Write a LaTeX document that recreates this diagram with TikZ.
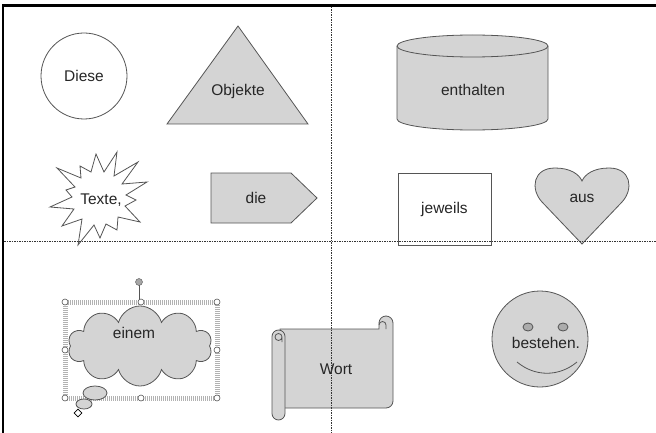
\documentclass[tikz,border=0pt]{standalone}
\usepackage{fontspec}
\setmainfont{Liberation Sans}
\usetikzlibrary{positioning}
\usetikzlibrary{shapes.geometric,shapes.symbols,calc}

\definecolor{shapegray}{RGB}{212,212,212}
\definecolor{linegray}{RGB}{85,85,85}

\tikzset{
    form/.style={draw=linegray, fill=shapegray, line width=0.8pt},
    plain/.style={draw=linegray, fill=white, line width=0.8pt},
    word/.style={text=black!85, font=\fontsize{15.5}{18}\selectfont},
    guide/.style={black!80, line width=0.6pt, dash pattern=on 1.5pt off 1pt},
    handle/.style={circle, draw=linegray, fill=white, inner sep=0pt,
        minimum size=6pt, line width=0.6pt}
}

\begin{document}
\begin{tikzpicture}[x=1pt, y=-1pt]
\useasboundingbox (0,0) rectangle (656,433);

% Frame
\draw[line width=2.4pt] (2,5.5) -- (656,5.5);
\draw[line width=2.4pt] (3,5.5) -- (3,433);

% Circle
\node[plain, circle,
    minimum size=86pt,
    word
    ] (diese) at (84,76) {Diese};

% Triangle
\draw[form] (238,26) -- (308,124) -- (167,124) -- cycle;
\node[word] (objekte) at (238,91) {Objekte};

% Cylinder
\draw[form] (397,46) -- (397,119) arc (180:360:75.5pt and 11pt)
    -- (548,46) arc (0:180:75.5pt and 11pt) -- cycle;
\draw[linegray, line width=0.8pt] (397,46) arc (180:360:75.5pt and 11pt);
\node[word] (enthalten) at (473,90) {enthalten};

% Starburst
\draw[plain, line join=miter] (117,152) -- (114,176) -- (138,162) -- (122,184)
    -- (147,182) -- (126,195) -- (136,200) -- (125,206) -- (140,222)
    -- (118,217) -- (117,230) -- (106,224) -- (100,238) -- (94,225)
    -- (78,245) -- (82,219) -- (62,226) -- (74,209) -- (50,207)
    -- (72,197) -- (66,190) -- (75,187) -- (57,168) -- (81,178)
    -- (80,166) -- (91,172) -- (96,154) -- (104,172) -- cycle;
\node[word] (texte) at (101,200) {Texte,};

% Pentagon arrow
\draw[form] (211,173) -- (291,173) -- (317,198) -- (291,223) -- (211,223) -- cycle;
\node[word] (die) at (256,198) {die};

% Rectangle
\node[plain, rectangle,
    minimum width=93pt,
    minimum height=72pt,
    word
    ] (jeweils) at (444.5,209) {jeweils};

% Heart
\draw[form] (582,244) -- (542,202)
    .. controls (530,189) and (533,168) .. (555,168)
    .. controls (570,168) and (579,174) .. (582,181)
    .. controls (585,174) and (594,168) .. (609,168)
    .. controls (631,168) and (634,189) .. (622,202) -- cycle;
\node[word] (aus) at (582,198) {aus};

% Selected cloud
\draw[gray!60, line width=5pt, dash pattern=on 1pt off 1pt] (65,302) rectangle (217,398);
\node[form, cloud,
    cloud puffs=10,
    aspect=1.8,
    minimum width=144pt,
    minimum height=80pt
    ] (cloud) at (140,346) {};
\node[word] (einem) at (134,333) {einem};
\draw[form] (95,393) ellipse (12pt and 7pt);
\draw[form] (84,404) ellipse (8pt and 5pt);
\draw[linegray, line width=0.8pt] (139,282) -- (139,302);
\node[circle, draw=linegray, fill=gray!70, minimum size=7pt, inner sep=0pt] (turn) at (139,282) {};
\foreach \hx/\hy in {65/302, 141/302, 217/302, 65/350, 217/350, 65/398, 141/398, 217/398}
    \node[handle] at (\hx,\hy) {};
\node[diamond, draw=black, fill=white, minimum size=8pt, inner sep=0pt, line width=0.6pt] (tip) at (78,413) {};

% Scroll
\draw[form] (280,329) -- (379,329) -- (379,323) arc (180:0:7pt)
    -- (393,401) arc (0:-90:7pt) -- (280,408) -- cycle;
\draw[linegray, line width=0.8pt] (386,329) -- (386,325) arc (0:180:3.5pt);
\draw[form, rounded corners=6.5pt] (272,330) rectangle (285,420);
\draw[linegray, line width=0.8pt] (282,342) -- (282,337) arc (0:360:3.5pt);
\node[word] (wort) at (336,369) {Wort};

% Smiley
\node[form, circle, minimum size=96pt] (smiley) at (540,339) {};
\draw[form, fill=gray!65] (528,327) ellipse (5pt and 4pt);
\draw[form, fill=gray!65] (563,327) ellipse (5pt and 4pt);
\draw[linegray, line width=0.8pt] (517,362) .. controls (535,377) and (559,377) .. (577,362);
\node[word] (bestehen) at (546,343) {bestehen.};

% Guides
\draw[guide] (331,7) -- (331,433);
\draw[guide] (4,241) -- (656,241);

\end{tikzpicture}
\end{document}
